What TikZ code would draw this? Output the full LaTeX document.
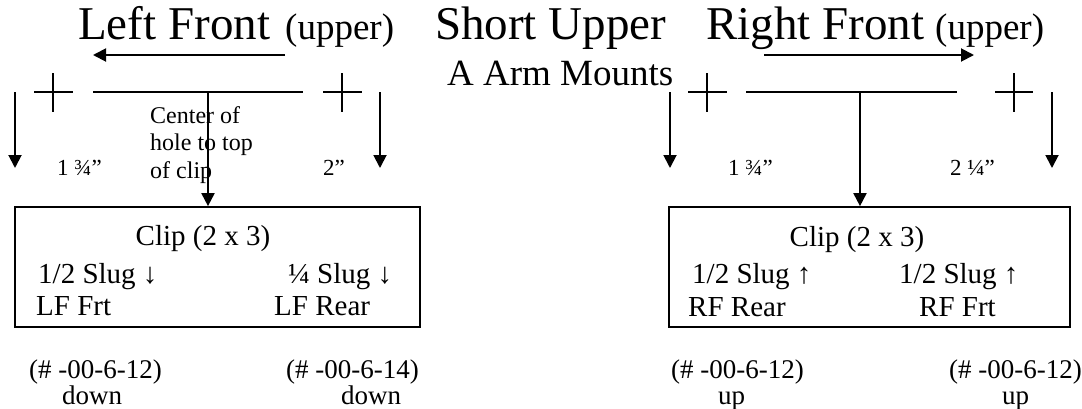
\documentclass[tikz,border=0pt]{standalone}
\usepackage{fontspec}
\setmainfont{Liberation Serif}
\usetikzlibrary{arrows.meta}
\tikzset{
  ln/.style={line width=1.9pt},
  arr/.style={ln,-{Triangle[length=13pt,width=13pt]}},
  txt/.style={inner sep=0pt,anchor=base west},
  ttl/.style={txt,font=\fontsize{47}{50}\selectfont},
  sub/.style={txt,font=\fontsize{37}{40}\selectfont},
  dim/.style={txt,font=\fontsize{23}{26}\selectfont},
  note/.style={txt,font=\fontsize{24}{27}\selectfont},
  boxt/.style={txt,font=\fontsize{29}{32}\selectfont},
  low/.style={txt,font=\fontsize{27}{30}\selectfont},
  clipbox/.style={draw,line width=1.7pt,inner sep=0pt}
}
\begin{document}
\begin{tikzpicture}[x=1pt,y=-1pt]
\useasboundingbox (0,0) rectangle (1082,408);
% titles
\node[ttl] (t1) at (78,39) {Left Front};
\node[sub] (t1u) at (285,39) {(upper)};
\node[ttl] (t2) at (435,39) {Short Upper};
\node[sub] (t2b) at (447,85) {A Arm Mounts};
\node[ttl] (t3) at (706,39) {Right Front};
\node[sub] (t3u) at (935,39) {(upper)};
% direction arrows
\coordinate (la1) at (285,55); \coordinate (la2) at (93,55);
\draw[arr] (la1) -- (la2);
\coordinate (ra1) at (764,55); \coordinate (ra2) at (974,55);
\draw[arr] (ra1) -- (ra2);
% left mount
\draw[ln] (34,92) -- (73,92) (53,73) -- (53,112);
\draw[ln] (323,92) -- (362,92) (342,73) -- (342,112);
\coordinate (lL1) at (93,92); \coordinate (lL2) at (303,92); \coordinate (lT) at (208,92);
\draw[ln] (lL1) -- (lL2);
\coordinate (ld1a) at (15,92); \coordinate (ld1b) at (15,168);
\coordinate (ld2a) at (380,92); \coordinate (ld2b) at (380,168);
\draw[arr] (ld1a) -- (ld1b);
\draw[arr] (ld2a) -- (ld2b);
% right mount
\draw[ln] (688,92) -- (727,92) (707,73) -- (707,112);
\draw[ln] (995,92) -- (1033,92) (1014,73) -- (1014,112);
\coordinate (rL1) at (746,92); \coordinate (rL2) at (957,92); \coordinate (rT) at (860,92);
\draw[ln] (rL1) -- (rL2);
\coordinate (rd1a) at (670,92); \coordinate (rd1b) at (670,168);
\coordinate (rd2a) at (1052,92); \coordinate (rd2b) at (1052,168);
\draw[arr] (rd1a) -- (rd1b);
\draw[arr] (rd2a) -- (rd2b);
% dimension labels
\node[dim] (d1) at (57,175) {1 ¾”};
\node[dim] (d2) at (323,175) {2”};
\node[dim] (d3) at (728,175) {1 ¾”};
\node[dim] (d4) at (950,175) {2 ¼”};
\node[note] (n1) at (150,123) {Center of};
\node[note] (n2) at (150,150) {hole to top};
\node[note] (n3) at (150,178) {of clip};
% boxes
\node[clipbox,minimum width=405pt,minimum height=120pt] (lbox) at (217.5,267) {};
\node[clipbox,minimum width=401pt,minimum height=120pt] (rbox) at (869.5,267) {};
\draw[arr] (lT) -- (lT |- lbox.north);
\draw[arr] (rT) -- (rT |- rbox.north);
% box texts
\node[boxt,anchor=base] (lc) at (203,245) {Clip (2 x 3)};
\node[boxt] (ls1) at (38,283) {1/2 Slug ↓};
\node[boxt] (ls2) at (288,283) {¼ Slug ↓};
\node[boxt] (lf1) at (36,315) {LF Frt};
\node[boxt] (lf2) at (274,315) {LF Rear};
\node[boxt,anchor=base] (rc) at (857,246) {Clip (2 x 3)};
\node[boxt] (rs1) at (692,283) {1/2 Slug ↑};
\node[boxt] (rs2) at (899,283) {1/2 Slug ↑};
\node[boxt] (rf1) at (688,316) {RF Rear};
\node[boxt] (rf2) at (919,316) {RF Frt};
% part numbers
\node[low] (p1) at (29,378) {(\# -00-6-12)};
\node[low] (w1) at (62,404) {down};
\node[low] (p2) at (286,378) {(\# -00-6-14)};
\node[low] (w2) at (341,404) {down};
\node[low] (p3) at (671,378) {(\# -00-6-12)};
\node[low] (w3) at (718,404) {up};
\node[low] (p4) at (949,378) {(\# -00-6-12)};
\node[low] (w4) at (1002,404) {up};
\end{tikzpicture}
\end{document}
